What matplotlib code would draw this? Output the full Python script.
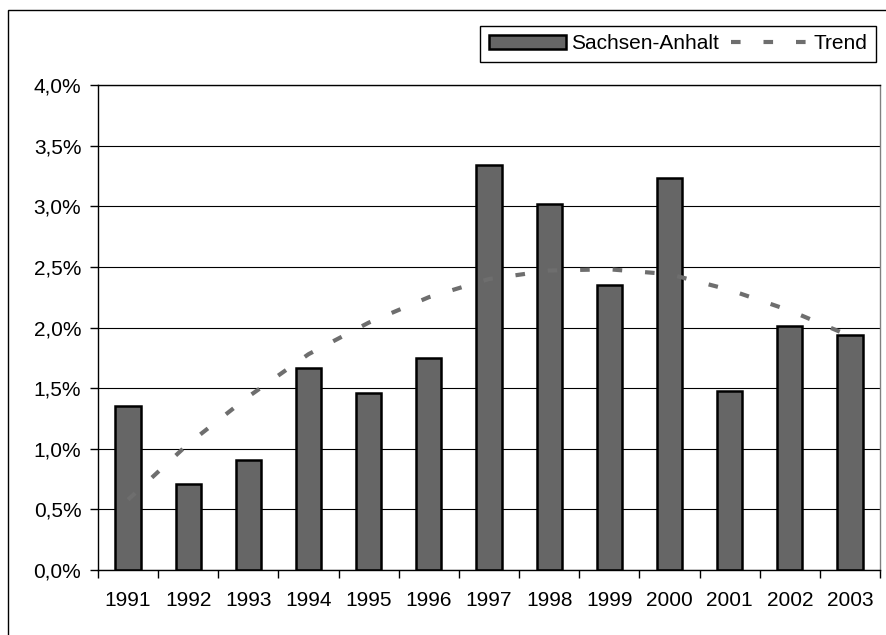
import numpy as np
import matplotlib.pyplot as plt
from matplotlib.patches import Rectangle
from matplotlib.ticker import FuncFormatter, MultipleLocator, FixedLocator

plt.rcParams['font.family'] = ['Liberation Sans', 'DejaVu Sans']

years = ['1991', '1992', '1993', '1994', '1995', '1996', '1997',
         '1998', '1999', '2000', '2001', '2002', '2003']
# share in percent
sachsen_anhalt = [1.35, 0.71, 0.91, 1.67, 1.46, 1.75, 3.34,
                  3.02, 2.35, 3.23, 1.48, 2.01, 1.94]
trend = [0.58, 1.04, 1.43, 1.78, 2.04, 2.25, 2.40,
         2.47, 2.48, 2.44, 2.31, 2.14, 1.93]

fig = plt.figure(figsize=(8.87, 6.35), dpi=100)
ax = fig.add_axes([98 / 887, 1 - 570 / 635, 782 / 887, 485 / 635])

x = np.arange(len(years))
bars = ax.bar(x, sachsen_anhalt, width=0.42, color='#666666',
              edgecolor='black', linewidth=1.8, zorder=2, label='Sachsen-Anhalt')
line, = ax.plot(x, trend, color='#6e6e6e', linewidth=3,
                linestyle=(0, (2.3, 5.5)), zorder=3, label='Trend')

ax.set_xlim(-0.5, len(years) - 0.5)
ax.set_ylim(0, 4.0)

ax.yaxis.set_major_locator(MultipleLocator(0.5))
ax.yaxis.set_major_formatter(FuncFormatter(lambda v, p: f'{v:.1f}%'.replace('.', ',')))
ax.grid(axis='y', color='black', linewidth=0.8, zorder=0)
ax.set_axisbelow(True)

ax.set_xticks(x)
ax.set_xticklabels(years)
ax.xaxis.set_minor_locator(FixedLocator(np.arange(-0.5, len(years), 1.0)))
ax.tick_params(axis='x', which='major', length=0, pad=15, labelsize=15)
ax.tick_params(axis='x', which='minor', length=6, width=1, color='black')
ax.tick_params(axis='y', length=6, width=1, pad=6, labelsize=15)

for side in ['left', 'bottom', 'top']:
    ax.spines[side].set_color('black')
    ax.spines[side].set_linewidth(1)
ax.spines['right'].set_color('#808080')
ax.spines['right'].set_linewidth(1)

leg = ax.legend(handles=[bars, line], ncol=2, loc='upper right',
                bbox_to_anchor=(876 / 887, 1 - 26 / 635), bbox_transform=fig.transFigure,
                fontsize=15, frameon=True, fancybox=False, framealpha=1,
                edgecolor='black', handlelength=3.7, handleheight=0.65,
                handletextpad=0.25, columnspacing=0.6, borderpad=0.4,
                borderaxespad=0)
leg.get_frame().set_linewidth(1)

# outer chart border, only left and top edges visible in the image
fig.patches.append(Rectangle((8.5 / 887, -0.2), 2, 1.2 - 10 / 635, transform=fig.transFigure,
                             fill=False, edgecolor='black', linewidth=1))

fig.savefig('out.png', dpi=100)
